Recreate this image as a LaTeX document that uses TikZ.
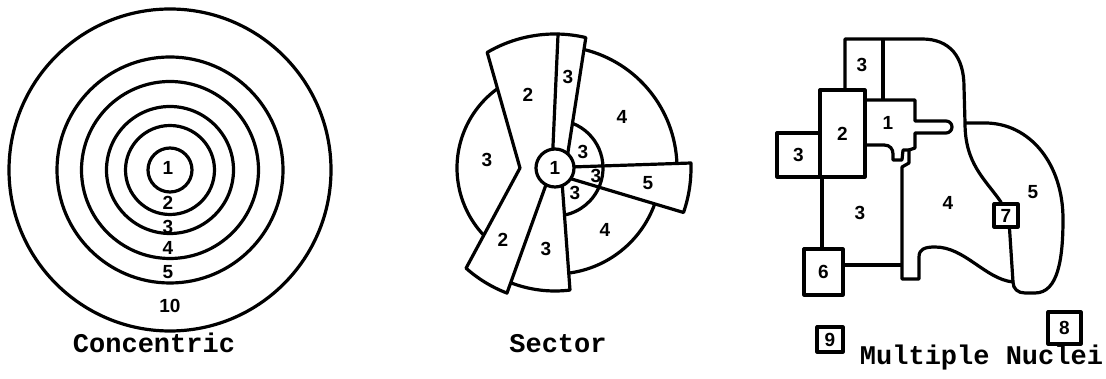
\documentclass[tikz,border=0pt]{standalone}
\usepackage{fontspec}
\setmainfont{Liberation Sans}
\newfontfamily\typew{Liberation Mono}
\usetikzlibrary{calc}
\begin{document}
\begin{tikzpicture}[x=1pt,y=1pt,line join=round,
  ln/.style={line width=3.2pt},
  num/.style={font=\fontsize{19}{19}\selectfont\bfseries,inner sep=0pt},
  ttl/.style={font=\fontsize{27}{27}\selectfont\typew\bfseries,inner sep=0pt,anchor=base},
  sbox/.style={draw,line width=3.2pt,inner sep=0pt,font=\fontsize{19}{19}\selectfont\bfseries}]
\useasboundingbox[fill=white] (0,0) rectangle (1106,379);

% ---------------- Concentric ----------------
\coordinate (cc) at (170,209);
\foreach \r in {22,44.5,63.5,88.5,113,161} \draw[ln] (cc) circle[radius=\r];
\node[num] (c1) at (168,211) {1};
\node[num] (c2) at (168,176) {2};
\node[num] (c3) at (168,152) {3};
\node[num] (c4) at (168,131) {4};
\node[num] (c5) at (168,107) {5};
\node[num] (c10) at (170,73) {10};
\node[ttl] (tc) at (154,26) {Concentric};

% ---------------- Sector ----------------
\coordinate (C) at (555,211);
% top 3 wedge
\draw[ln] (552,211) -- ($(C)+(88.7:134)$) arc[start angle=88.7,end angle=76.7,radius=134] -- (565.5,211);
% 2 band (upper and lower)
\draw[ln] ($(C)+(88.7:134)$) arc[start angle=88.7,end angle=120.4,radius=134] -- (520,211)
  -- ($(C)+(-131.6:134)$) arc[start angle=-131.6,end angle=-111,radius=134] -- (552,211);
% lower 3 wedge
\draw[ln] ($(C)+(-111.1:123)$) arc[start angle=-111.1,end angle=-83,radius=123] -- (561,211);
% wedge 5
\draw[ln] (556,211.5) -- ($(C)+(2.1:136)$) arc[start angle=2.1,end angle=-19.1,radius=136] -- (556,204.7);
% outer rings
\draw[ln] ($(C)+(76.2:122)$) arc[start angle=76.2,end angle=2.1,radius=122];
\draw[ln] ($(C)+(-19.8:106)$) arc[start angle=-19.8,end angle=-83,radius=106];
\draw[ln] ($(C)+(125.9:98)$) arc[start angle=125.9,end angle=223.5,radius=98];
% inner ring
\draw[ln] ($(C)+(68.6:48)$) arc[start angle=68.6,end angle=-78.6,radius=48];
% centre
\node[draw,ln,circle,fill=white,minimum size=38pt,num] (s1) at (C) {1};
\node[num] (s3a) at (568,302) {3};
\node[num] (s2a) at (528,284) {2};
\node[num] (s4a) at (622,262) {4};
\node[num] (s3b) at (487,219) {3};
\node[num] (s3c) at (583,227) {3};
\node[num] (s3d) at (596,203) {3};
\node[num] (s3e) at (575,186) {3};
\node[num] (s5) at (648,196) {5};
\node[num] (s4b) at (605,149) {4};
\node[num] (s2b) at (503,139) {2};
\node[num] (s3f) at (546,130) {3};
\node[ttl] (ts) at (558,26) {Sector};

% ---------------- Multiple Nuclei ----------------
\node[sbox,minimum width=45pt,minimum height=87pt] (b2) at (842.5,245.5) {2};
\node[sbox,minimum width=43pt,minimum height=44pt] (b3l) at (798.5,224) {3};
\node[sbox,minimum width=39pt,minimum height=46pt] (b6) at (823.5,107) {6};
\node[sbox,minimum width=24pt,minimum height=23pt] (b7) at (1006,163.5) {7};
\node[sbox,minimum width=26pt,minimum height=25pt] (b9) at (830,39.5) {9};
\node[sbox,minimum width=33pt,minimum height=32pt] (b8) at (1064.5,51) {8};
% top 3 box and outline of 4
\draw[ln] (845,289) -- (845,340) -- (922,340) .. controls (950,340) and (964,322) .. (964,292)
  -- (965,256) .. controls (965,215) and (985,200) .. (b7.110);
\draw[ln] (883,340) -- (883,279);
% zone 5 outline
\draw[ln] (965,256) -- (985,256) .. controls (1030,256) and (1063,215) .. (1063,160)
  .. controls (1063,120) and (1058,86) .. (1035,86) -- (1025,86)
  .. controls (1018,86) and (1013,90) .. (1013,97);
\draw[ln] (b7.-75) -- (1013,97);
% zone 4 bottom, zone 1 outline
\draw[ln] (1013,97) .. controls (985,100) and (965,132) .. (935,132)
  .. controls (925,132) and (919,130) .. (919,122) -- (919,100) -- (902,100)
  -- (902,212) -- (909,216) -- (909,229) -- (915,231) -- (915,246) -- (946,246)
  arc[start angle=-90,end angle=90,radius=6] -- (915,258) -- (915,279) -- (b2.east |- 0,279);
% finger of zone 1
\draw[ln] (b2.east |- 0,234) -- (884,234) .. controls (890,234) and (893,230) .. (893,225)
  -- (893,219) -- (902,219) -- (903,229) -- (909,229);
% zone 3 outline
\draw[ln] (b6.north -| 822,0) -- (b2.south -| 822,0);
\draw[ln] ($(b6.east)+(0,7)$) -- (902,114);
\node[num] (m3t) at (862,314) {3};
\node[num] (m1) at (888,256) {1};
\node[num] (m3) at (860,166) {3};
\node[num] (m4) at (948,176) {4};
\node[num] (m5) at (1033,187) {5};
\node[ttl] (tm) at (981.5,14) {Multiple Nuclei};
\end{tikzpicture}
\end{document}
